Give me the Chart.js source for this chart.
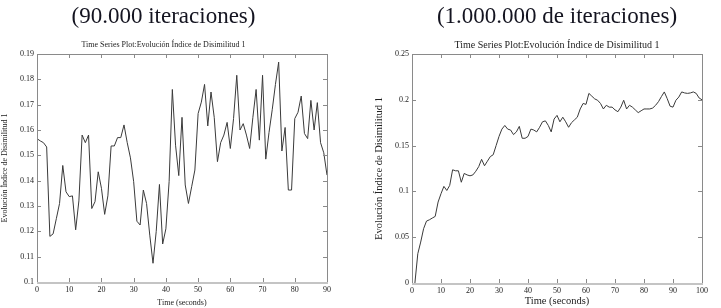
<!DOCTYPE html>
<html>
<head>
<meta charset="utf-8">
<script src="https://cdn.jsdelivr.net/npm/chart.js@4"></script>
<style>
  html, body { margin: 0; padding: 0; background: #fff; }
  body { width: 721px; height: 308px; position: relative; overflow: hidden; }
  #leftChart { position: absolute; left: 0; top: 0; }
  #rightChart { position: absolute; left: 360px; top: 0; }
</style>
</head>
<body>
<canvas id="leftChart" width="360" height="308"></canvas>
<canvas id="rightChart" width="361" height="308"></canvas>
<script>
// headings, chart titles and axis labels
const leftHeading = '(90.000 iteraciones)';
const rightHeading = '(1.000.000 de iteraciones)';
const plotTitle = 'Time Series Plot:Evolución Índice de Disimilitud 1';
const yTitle = 'Evolución Índice de Disimilitud 1';
const xTitle = 'Time (seconds)';

// 90.000 iteraciones, one value per second from 0 to 90
const leftValues = [
    0.1566, 0.1557, 0.155, 0.1533, 0.118, 0.119, 0.125, 0.131, 0.146, 0.1356,
    0.1337, 0.134, 0.1206, 0.132, 0.158, 0.155, 0.158, 0.129, 0.1317, 0.1435,
    0.137, 0.1267, 0.134, 0.1537, 0.1537, 0.157, 0.157, 0.162, 0.155, 0.149,
    0.1396, 0.124, 0.1225, 0.1363, 0.131, 0.1185, 0.1074, 0.12, 0.1385, 0.115,
    0.121, 0.1396, 0.176, 0.154, 0.142, 0.165, 0.1383, 0.131, 0.1376, 0.1442,
    0.1665, 0.171, 0.178, 0.1616, 0.175, 0.165, 0.1475, 0.155, 0.158, 0.163,
    0.1527, 0.1645, 0.1816, 0.160, 0.1625, 0.158, 0.1527, 0.165, 0.176, 0.156,
    0.1816, 0.1485, 0.159, 0.168, 0.178, 0.1868, 0.1517, 0.161, 0.1363, 0.1363,
    0.1645, 0.167, 0.1734, 0.1586, 0.1566, 0.1717, 0.160, 0.1708, 0.155, 0.151,
    0.1422
];

// 1.000.000 de iteraciones, one value per second from 1 to 100
const rightValues = [
    0.0, 0.032, 0.0447, 0.0593, 0.0676, 0.069, 0.0709, 0.0727, 0.0884, 0.0975,
    0.1055, 0.101, 0.1065, 0.1236, 0.1225, 0.1225, 0.110, 0.1196, 0.118, 0.117,
    0.118, 0.122, 0.127, 0.135, 0.128, 0.133, 0.138, 0.140, 0.150, 0.160,
    0.168, 0.172, 0.168, 0.167, 0.162, 0.165, 0.171, 0.158, 0.158, 0.160,
    0.168, 0.167, 0.165, 0.170, 0.176, 0.177, 0.172, 0.165, 0.179, 0.183,
    0.176, 0.181, 0.176, 0.170, 0.175, 0.178, 0.181, 0.190, 0.196, 0.195,
    0.207, 0.204, 0.201, 0.1995, 0.196, 0.190, 0.194, 0.192, 0.192, 0.189,
    0.187, 0.192, 0.1995, 0.190, 0.194, 0.192, 0.189, 0.186, 0.188, 0.190,
    0.190, 0.190, 0.191, 0.194, 0.198, 0.2035, 0.2086, 0.2013, 0.193, 0.192,
    0.1995, 0.203, 0.2086, 0.2075, 0.207, 0.2075, 0.2086, 0.207, 0.202, 0.200
];

const serif = '"Liberation Serif", serif';

// box around the plot with short ticks pointing inwards
const frameTicks = {
    id: 'frameTicks',
    afterDraw(chart) {
        const { ctx, chartArea: a, scales: { x, y } } = chart;
        ctx.save();
        ctx.lineWidth = 1;
        ctx.strokeStyle = '#8a8a8a';
        ctx.strokeRect(Math.round(a.left) + 0.5, Math.round(a.top) + 0.5,
            Math.round(a.width), Math.round(a.height));
        ctx.beginPath();
        x.ticks.forEach(t => {
            const px = Math.round(x.getPixelForValue(t.value)) + 0.5;
            ctx.moveTo(px, a.bottom); ctx.lineTo(px, a.bottom - 4);
            ctx.moveTo(px, a.top); ctx.lineTo(px, a.top + 4);
        });
        y.ticks.forEach(t => {
            const py = Math.round(y.getPixelForValue(t.value)) + 0.5;
            ctx.moveTo(a.left, py); ctx.lineTo(a.left + 4, py);
            ctx.moveTo(a.right, py); ctx.lineTo(a.right - 4, py);
        });
        ctx.stroke();
        ctx.lineWidth = 2;
        ctx.strokeStyle = '#c4c4c4';
        ctx.beginPath();
        ctx.moveTo(a.left, Math.round(a.bottom) + 1);
        ctx.lineTo(a.right + 1, Math.round(a.bottom) + 1);
        ctx.stroke();
        ctx.restore();
    }
};

const makeChart = (canvasId, heading, points, opts) => {
    const ctx = document.getElementById(canvasId).getContext('2d');
    return new Chart(ctx, {
        type: 'line',
        data: {
            datasets: [{
                data: points,
                borderColor: '#3a3a3a',
                borderWidth: 1,
                pointRadius: 0,
                tension: 0,
                fill: false
            }]
        },
        options: {
            responsive: false,
            animation: false,
            layout: { padding: opts.padding },
            plugins: {
                legend: { display: false },
                tooltip: { enabled: false },
                title: {
                    display: true,
                    text: heading,
                    color: '#141420',
                    fullSize: opts.fullSize,
                    font: { family: serif, size: 23, weight: 'normal', lineHeight: 1.2 },
                    padding: { top: 3, bottom: opts.headGap }
                },
                subtitle: {
                    display: true,
                    text: plotTitle,
                    color: '#222',
                    fullSize: opts.fullSize,
                    font: { family: serif, size: opts.titleSize, weight: 'normal', lineHeight: 1.2 },
                    padding: { top: 0, bottom: opts.titleGap }
                }
            },
            scales: {
                x: {
                    type: 'linear',
                    min: 0,
                    max: opts.xMax,
                    grid: { display: false, drawTicks: false, tickLength: 0 },
                    border: { display: false },
                    ticks: {
                        stepSize: 10,
                        color: '#222',
                        padding: 3,
                        maxRotation: 0,
                        font: { family: serif, size: 8 }
                    },
                    title: {
                        display: true,
                        text: xTitle,
                        color: '#222',
                        padding: 0,
                        font: { family: serif, size: opts.axisTitleSize }
                    },
                    afterFit: scale => { scale.height = opts.xHeight; }
                },
                y: {
                    min: opts.yMin,
                    max: opts.yMax,
                    grid: { display: false, drawTicks: false, tickLength: 0 },
                    border: { display: false },
                    ticks: {
                        stepSize: opts.yStep,
                        color: '#222',
                        padding: 3,
                        font: { family: serif, size: 8 },
                        callback: v => String(+v.toFixed(2))
                    },
                    title: {
                        display: true,
                        text: yTitle,
                        color: '#222',
                        padding: { top: opts.yTitlePad, bottom: 0 },
                        font: { family: serif, size: opts.axisTitleSize }
                    },
                    afterFit: scale => { scale.width = opts.yWidth; }
                }
            }
        },
        plugins: [frameTicks]
    });
};

makeChart('leftChart', leftHeading, leftValues.map((v, i) => ({ x: i, y: v })), {
    padding: { top: 0, right: 33, bottom: 0, left: 0 },
    fullSize: true,
    headGap: 9.6,
    titleSize: 8,
    titleGap: 4.2,
    axisTitleSize: 8,
    yTitlePad: 0,
    xMax: 90, yMin: 0.1, yMax: 0.19, yStep: 0.01,
    xHeight: 26, yWidth: 37
});

makeChart('rightChart', rightHeading, rightValues.map((v, i) => ({ x: i + 1, y: v })), {
    padding: { top: 0, right: 19, bottom: 0, left: 0 },
    fullSize: false,
    headGap: 8.4,
    titleSize: 10,
    titleGap: 3,
    axisTitleSize: 10.5,
    yTitlePad: 13,
    xMax: 100, yMin: 0, yMax: 0.25, yStep: 0.05,
    xHeight: 25, yWidth: 52
});
</script>
</body>
</html>
